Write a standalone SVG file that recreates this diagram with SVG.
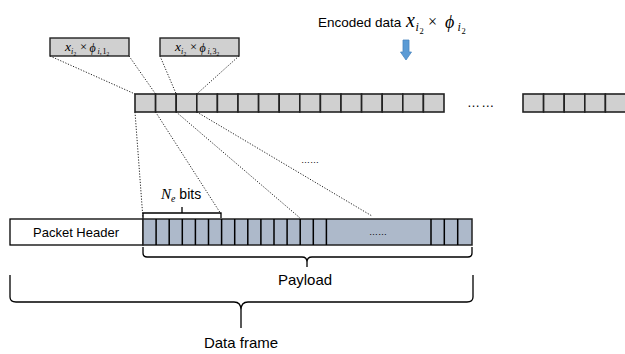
<svg xmlns="http://www.w3.org/2000/svg" width="625" height="354" viewBox="0 0 625 354">
<style>
.sans{font-family:"Liberation Sans",Arial,sans-serif;fill:#000}
.m{font-family:"Liberation Serif","DejaVu Serif",serif;font-style:italic;fill:#000}
.n{font-style:normal}
.cell{fill:#d0d0d0;stroke:#222;stroke-width:1.6}
.lbl{fill:#d0d0d0;stroke:#222;stroke-width:1.4}
.dot{fill:none;stroke:#222;stroke-width:1;stroke-dasharray:1.2 1.6}
.brace{fill:none;stroke:#000;stroke-width:1.3}
.div{stroke:#000;stroke-width:1.5}
</style>
<defs>
<rect id="c" class="cell" width="20.6" height="18"/>
</defs>

<g id="encoded-label">
<text class="sans" x="318" y="27" font-size="13.5">Encoded data</text>
<text class="m" font-size="20"><tspan x="406" y="27">x</tspan><tspan x="415.5" y="31" font-size="12">i</tspan><tspan x="419.5" y="34" font-size="8.5" class="n">2</tspan><tspan x="428" y="27" font-size="16" class="n">×</tspan><tspan x="445" y="28" font-size="18">ϕ</tspan><tspan x="457.5" y="31" font-size="12">i</tspan><tspan x="461.5" y="34" font-size="8.5" class="n">2</tspan></text>
</g>

<g id="arrow">
<path d="M403,40 H409 V52 H411.5 L406,60 L400.5,52 H403 Z" fill="#5b9bd5" stroke="#4a86c0" stroke-width="0.8"/>
</g>

<g id="label-1">
<rect class="lbl" x="50" y="38" width="79" height="18"/>
<text class="m" font-size="13.5"><tspan x="65" y="51">x</tspan><tspan x="71" y="53.5" font-size="8">i</tspan><tspan x="73.6" y="55.5" font-size="5.5" class="n">2</tspan><tspan x="80" y="51" font-size="12.5" class="n">×</tspan><tspan x="89.5" y="51.5" font-size="12">ϕ</tspan><tspan x="97.5" y="53.5" font-size="8">i,</tspan><tspan x="102.5" y="53.5" font-size="8" class="n">1</tspan><tspan x="106.6" y="55.5" font-size="5.5" class="n">2</tspan></text>
</g>

<g id="label-2">
<rect class="lbl" x="160" y="38" width="79" height="18"/>
<text class="m" font-size="13.5"><tspan x="175" y="51">x</tspan><tspan x="181" y="53.5" font-size="8">i</tspan><tspan x="183.6" y="55.5" font-size="5.5" class="n">2</tspan><tspan x="190" y="51" font-size="12.5" class="n">×</tspan><tspan x="199.5" y="51.5" font-size="12">ϕ</tspan><tspan x="207.5" y="53.5" font-size="8">i,</tspan><tspan x="212.5" y="53.5" font-size="8" class="n">3</tspan><tspan x="216.6" y="55.5" font-size="5.5" class="n">2</tspan></text>
</g>

<g id="encoded-row">
<use href="#c" x="135" y="94"/><use href="#c" x="155.6" y="94"/><use href="#c" x="176.2" y="94"/><use href="#c" x="196.8" y="94"/><use href="#c" x="217.4" y="94"/>
<use href="#c" x="238" y="94"/><use href="#c" x="258.6" y="94"/><use href="#c" x="279.2" y="94"/><use href="#c" x="299.8" y="94"/><use href="#c" x="320.4" y="94"/>
<use href="#c" x="341" y="94"/><use href="#c" x="361.6" y="94"/><use href="#c" x="382.2" y="94"/><use href="#c" x="402.8" y="94"/><use href="#c" x="423.4" y="94"/>
<text class="sans" x="467" y="107" font-size="13" letter-spacing="1.2">……</text>
<use href="#c" x="523" y="94"/><use href="#c" x="543.6" y="94"/><use href="#c" x="564.2" y="94"/><use href="#c" x="584.8" y="94"/><use href="#c" x="605.4" y="94"/>
</g>

<g id="connectors">
<line class="dot" x1="50" y1="56" x2="135" y2="94"/>
<line class="dot" x1="129" y1="56" x2="155.6" y2="94"/>
<line class="dot" x1="160" y1="56" x2="176.2" y2="94"/>
<line class="dot" x1="239" y1="56" x2="196.8" y2="94"/>
<line class="dot" x1="135" y1="112" x2="143" y2="219"/>
<line class="dot" x1="155.6" y1="112" x2="221" y2="214"/>
<line class="dot" x1="176.2" y1="112" x2="300" y2="218"/>
<line class="dot" x1="196.8" y1="112" x2="372" y2="216"/>
<text class="sans" x="301" y="163" font-size="9">……</text>
</g>

<g id="packet-header">
<rect x="10" y="219" width="133" height="26" fill="#fff" stroke="#000" stroke-width="1.3"/>
<text class="sans" x="76" y="237" font-size="13" text-anchor="middle">Packet Header</text>
</g>

<g id="payload">
<rect x="143" y="219" width="329" height="26" fill="#adb9ca" stroke="#222" stroke-width="1.5"/>
<path class="div" d="M156.1,219V245M169.2,219V245M182.3,219V245M195.4,219V245M208.5,219V245M221.6,219V245M234.7,219V245M247.8,219V245M260.9,219V245M274,219V245M287.1,219V245M300.2,219V245M313.3,219V245M326.4,219V245M431,219V245M444.3,219V245M457.7,219V245"/>
<text class="sans" x="378" y="235" font-size="9" text-anchor="middle">……</text>
</g>

<g id="ne-bits">
<path class="brace" d="M143,218 V213 H221 V218 M182,213 V207"/>
<text x="161" y="199" font-size="14"><tspan class="m" font-size="15">N</tspan><tspan class="m" font-size="10" dy="3">e</tspan><tspan class="sans" dy="-3"> bits</tspan></text>
</g>

<g id="payload-brace">
<path class="brace" d="M143,247 V253 Q143,257 147,257 H302 Q307,257 307,262 V267 M307,262 Q307,257 312,257 H468 Q472,257 472,253 V247"/>
<text class="sans" x="305" y="285" font-size="15" text-anchor="middle">Payload</text>
</g>

<g id="frame-brace">
<path class="brace" d="M10,275 V297 Q10,302 16,302 H234 Q241,302 241,310 V328 M241,310 Q241,302 248,302 H467 Q473,302 473,297 V275"/>
<text class="sans" x="241" y="348" font-size="15" text-anchor="middle">Data frame</text>
</g>
</svg>
